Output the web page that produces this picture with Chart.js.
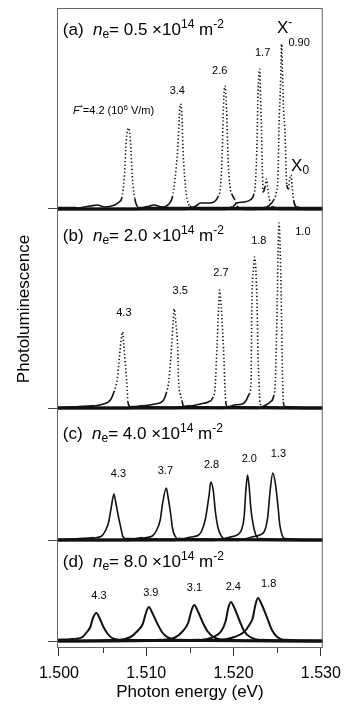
<!DOCTYPE html>
<html>
<head>
<meta charset="utf-8">
<title>Photoluminescence spectra</title>
<script src="https://cdn.jsdelivr.net/npm/chart.js@4.4.1/dist/chart.umd.min.js"></script>
<style>
  html, body { margin: 0; padding: 0; background: #fff; }
  #plChart { display: block; }
</style>
</head>
<body>
<canvas id="plChart" width="349" height="705"></canvas>
<script>
// spectra: [photon energy (eV), PL intensity (a.u., above own baseline)]
// panel (a) n_e = 0.5e14 m^-2
var a1 = [[1.4998,0.01],[1.5020,0.01],[1.5036,0.03],[1.5044,0.04],[1.5052,0.02],[1.5064,0.04],[1.5069,0.07],[1.5072,0.11],[1.5075,0.33],[1.5077,0.67],[1.5080,0.81],[1.5082,0.67],[1.5084,0.33],[1.5087,0.10],[1.5092,0.01],[1.5120,0.01],[1.5302,0.01]];
var a2 = [[1.4998,0],[1.5090,0],[1.5101,0.02],[1.5109,0.04],[1.5118,0.02],[1.5126,0.05],[1.5130,0.12],[1.5133,0.30],[1.5136,0.60],[1.5138,0.92],[1.5139,1.05],[1.5141,0.92],[1.5142,0.62],[1.5144,0.32],[1.5146,0.14],[1.5150,0.03],[1.5162,0],[1.5302,0]];
var a3 = [[1.4998,0],[1.5146,0],[1.5157,0.03],[1.5162,0.06],[1.5173,0.06],[1.5179,0.08],[1.5182,0.12],[1.5185,0.22],[1.5187,0.55],[1.5188,0.90],[1.5190,1.23],[1.5192,1.00],[1.5193,0.70],[1.5194,0.45],[1.5196,0.22],[1.5198,0.15],[1.5201,0.10],[1.5204,0.03],[1.5212,0],[1.5302,0]];
var a4 = [[1.4998,0],[1.5190,0],[1.5199,0.02],[1.5204,0.06],[1.5212,0.07],[1.5219,0.09],[1.5223,0.14],[1.5225,0.25],[1.5227,0.70],[1.5228,1.15],[1.5230,1.40],[1.5231,1.10],[1.5232,0.80],[1.5233,0.40],[1.5234,0.17],[1.5236,0.22],[1.5238,0.30],[1.5239,0.22],[1.5241,0.10],[1.5244,0.02],[1.5257,0],[1.5302,0]];
var a5 = [[1.4998,0],[1.5223,0],[1.5234,0.01],[1.5240,0.03],[1.5246,0.09],[1.5249,0.17],[1.5251,0.35],[1.5252,0.80],[1.5254,1.30],[1.5255,1.65],[1.5256,1.40],[1.5257,1.05],[1.5259,0.75],[1.5260,0.45],[1.5261,0.24],[1.5263,0.20],[1.5264,0.28],[1.5266,0.34],[1.5267,0.24],[1.5269,0.08],[1.5272,0.02],[1.5281,0],[1.5302,0]];
// panel (b) n_e = 2.0e14 m^-2
var b1 = [[1.4998,0],[1.5023,0.01],[1.5040,0.02],[1.5051,0.04],[1.5059,0.08],[1.5063,0.16],[1.5067,0.30],[1.5069,0.48],[1.5071,0.66],[1.5073,0.76],[1.5074,0.66],[1.5076,0.45],[1.5078,0.22],[1.5079,0.06],[1.5082,0.01],[1.5302,0]];
var b2 = [[1.4998,0],[1.5079,0],[1.5096,0.02],[1.5110,0.04],[1.5119,0.07],[1.5123,0.15],[1.5126,0.28],[1.5129,0.61],[1.5131,0.88],[1.5132,0.99],[1.5134,0.85],[1.5136,0.61],[1.5137,0.28],[1.5139,0.14],[1.5141,0.07],[1.5143,0.01],[1.5302,0]];
var b3 = [[1.4998,0],[1.5134,0],[1.5151,0.02],[1.5162,0.04],[1.5171,0.06],[1.5176,0.10],[1.5179,0.22],[1.5181,0.60],[1.5183,1.02],[1.5184,1.18],[1.5186,1.00],[1.5187,0.85],[1.5189,0.50],[1.5190,0.25],[1.5191,0.07],[1.5193,0.01],[1.5302,0]];
var b4 = [[1.4998,0],[1.5190,0],[1.5201,0.03],[1.5210,0.04],[1.5214,0.07],[1.5218,0.14],[1.5220,0.25],[1.5221,1.05],[1.5223,1.40],[1.5224,1.51],[1.5226,1.30],[1.5227,1.00],[1.5228,0.55],[1.5229,0.30],[1.5230,0.08],[1.5233,0.01],[1.5302,0]];
var b5 = [[1.4998,0],[1.5229,0],[1.5237,0.03],[1.5242,0.06],[1.5246,0.12],[1.5248,0.30],[1.5250,1.05],[1.5251,1.55],[1.5252,1.85],[1.5254,1.40],[1.5255,0.88],[1.5256,0.38],[1.5257,0.06],[1.5259,0.01],[1.5302,0]];
// panel (c) n_e = 4.0e14 m^-2
var c1 = [[1.4998,0],[1.5023,0.01],[1.5040,0.02],[1.5049,0.04],[1.5053,0.09],[1.5057,0.18],[1.5060,0.33],[1.5063,0.46],[1.5065,0.38],[1.5068,0.24],[1.5071,0.12],[1.5073,0.04],[1.5077,0.01],[1.5302,0]];
var c2 = [[1.4998,0],[1.5079,0],[1.5096,0.02],[1.5107,0.04],[1.5112,0.10],[1.5116,0.20],[1.5119,0.38],[1.5123,0.52],[1.5125,0.43],[1.5128,0.26],[1.5130,0.12],[1.5133,0.04],[1.5137,0.01],[1.5302,0]];
var c3 = [[1.4998,0],[1.5134,0],[1.5151,0.03],[1.5160,0.05],[1.5164,0.10],[1.5168,0.22],[1.5172,0.45],[1.5174,0.58],[1.5177,0.48],[1.5179,0.30],[1.5182,0.13],[1.5186,0.04],[1.5190,0.01],[1.5302,0]];
var c4 = [[1.4998,0],[1.5179,0],[1.5196,0.03],[1.5204,0.05],[1.5209,0.10],[1.5212,0.22],[1.5214,0.48],[1.5216,0.65],[1.5218,0.52],[1.5220,0.30],[1.5223,0.13],[1.5226,0.04],[1.5229,0.01],[1.5302,0]];
var c5 = [[1.4998,0],[1.5207,0],[1.5221,0.03],[1.5230,0.05],[1.5236,0.10],[1.5239,0.22],[1.5242,0.50],[1.5245,0.67],[1.5248,0.56],[1.5251,0.33],[1.5253,0.15],[1.5256,0.04],[1.5259,0.01],[1.5302,0]];
// panel (d) n_e = 8.0e14 m^-2
var d1 = [[1.4998,0.01],[1.5018,0.02],[1.5027,0.04],[1.5032,0.09],[1.5036,0.14],[1.5039,0.23],[1.5043,0.28],[1.5047,0.22],[1.5051,0.14],[1.5056,0.07],[1.5061,0.03],[1.5073,0.01],[1.5302,0]];
var d2 = [[1.4998,0],[1.5068,0.01],[1.5082,0.04],[1.5090,0.10],[1.5096,0.17],[1.5100,0.29],[1.5103,0.34],[1.5107,0.28],[1.5113,0.17],[1.5118,0.09],[1.5124,0.04],[1.5137,0.01],[1.5302,0]];
var d3 = [[1.4998,0],[1.5118,0.01],[1.5134,0.04],[1.5142,0.10],[1.5148,0.18],[1.5152,0.31],[1.5155,0.36],[1.5159,0.30],[1.5165,0.18],[1.5170,0.10],[1.5177,0.04],[1.5190,0.01],[1.5302,0]];
var d4 = [[1.4998,0],[1.5162,0.01],[1.5177,0.04],[1.5186,0.10],[1.5191,0.20],[1.5194,0.33],[1.5197,0.39],[1.5201,0.33],[1.5207,0.20],[1.5212,0.10],[1.5219,0.04],[1.5232,0.01],[1.5302,0]];
var d5 = [[1.4998,0],[1.5184,0.01],[1.5201,0.04],[1.5212,0.09],[1.5218,0.16],[1.5222,0.23],[1.5225,0.36],[1.5228,0.43],[1.5232,0.37],[1.5239,0.22],[1.5244,0.11],[1.5250,0.04],[1.5259,0.01],[1.5302,0]];

// vertical offset of each panel's zero line
var panelOffsets = [4.32, 2.33, 1.01, 0];
var panelTags = ['(a)', '(b)', '(c)', '(d)'];
var densities = ['0.5', '2.0', '4.0', '8.0'];
// F* field strength of each spectrum (10^6 V/m)
var fieldsA = ['4.2', '3.4', '2.6', '1.7', '0.90'];
var fieldsB = ['4.3', '3.5', '2.7', '1.8', '1.0'];
var fieldsC = ['4.3', '3.7', '2.8', '2.0', '1.3'];
var fieldsD = ['4.3', '3.9', '3.1', '2.4', '1.8'];
var majorTicks = [1.500, 1.510, 1.520, 1.530];
var minorTicks = [1.505, 1.515, 1.525];

// where the texts sit, in axis units
var tagSpots = [[1.50044, 6.06], [1.50044, 4.005], [1.50044, 2.025], [1.50044, 0.74]];
var fieldSpots = [
  [[1.50626, 5.267], [1.51356, 5.47], [1.51841, 5.675], [1.52333, 5.855], [1.52751, 5.955]],
  [[1.50744, 3.255], [1.51389, 3.47], [1.51856, 3.65], [1.52289, 3.975], [1.52794, 4.065]],
  [[1.50681, 1.637], [1.51219, 1.67], [1.51748, 1.73], [1.52181, 1.787], [1.52514, 1.843]],
  [[1.50459, 0.42], [1.51052, 0.453], [1.51552, 0.497], [1.51997, 0.51], [1.52403, 0.543]]
];
var trionSpot = [1.52497, 6.083];
var excitonSpot = [1.52659, 4.703];

var FONT = "'Liberation Sans', Arial, sans-serif";
var panels = [[a1, a2, a3, a4, a5], [b1, b2, b3, b4, b5], [c1, c2, c3, c4, c5], [d1, d2, d3, d4, d5]];
var fieldLists = [fieldsA, fieldsB, fieldsC, fieldsD];

function steep(c) {
  var dy = Math.abs(c.p1.y - c.p0.y), dx = Math.abs(c.p1.x - c.p0.x);
  return dy > 6 && dy > 2.5 * dx;
}

var datasets = [];
panels.forEach(function (group, p) {
  group.forEach(function (spec) {
    var inten = spec.map(function (d) { return d[1]; });
    datasets.push({
      data: spec.map(function (d) { return { x: d[0], y: d[1] + panelOffsets[p] }; }),
      borderColor: '#111',
      borderWidth: p === 3 ? 2 : 1.6,
      pointRadius: 0,
      cubicInterpolationMode: 'monotone',
      segment: {
        borderDash: function (c) { return (p < 2 && steep(c)) ? [1.3, 2.3] : undefined; },
        borderWidth: function (c) {
          return (inten[c.p0DataIndex] < 0.03 && inten[c.p1DataIndex] < 0.03) ? 2.6 : undefined;
        }
      }
    });
  });
});

// text with italic / super / subscript runs, x,y is the baseline
function drawRuns(ctx, runs, x, y, size, align) {
  var small = Math.round(size * 0.7);
  function fontFor(k) {
    return (k === 'i' ? 'italic ' : '') + ((k === 'sup' || k === 'sub') ? small : size) + 'px ' + FONT;
  }
  var w = 0;
  runs.forEach(function (r) { ctx.font = fontFor(r[1]); w += ctx.measureText(r[0]).width; });
  var cx = align === 'center' ? x - w / 2 : x;
  ctx.textAlign = 'left';
  ctx.textBaseline = 'alphabetic';
  runs.forEach(function (r) {
    ctx.font = fontFor(r[1]);
    var dy = r[1] === 'sup' ? -size * 0.4 : (r[1] === 'sub' ? size * 0.2 : 0);
    ctx.fillText(r[0], cx, y + dy);
    cx += ctx.measureText(r[0]).width;
  });
}

var decorations = {
  id: 'decorations',
  afterDraw: function (chart) {
    var ctx = chart.ctx, a = chart.chartArea, x = chart.scales.x, y = chart.scales.y;
    ctx.save();
    // frame
    ctx.strokeStyle = '#666';
    ctx.lineWidth = 1;
    ctx.strokeRect(a.left + 0.5, a.top + 0.5, a.right - a.left - 1, a.bottom - a.top - 1);
    // minor ticks
    ctx.strokeStyle = '#333';
    minorTicks.forEach(function (v) {
      var px = Math.round(x.getPixelForValue(v)) + 0.5;
      ctx.beginPath();
      ctx.moveTo(px, a.bottom);
      ctx.lineTo(px, a.bottom + 5);
      ctx.stroke();
    });
    ctx.fillStyle = '#000';
    // panel headings
    panelTags.forEach(function (tag, p) {
      drawRuns(ctx, [[tag + '  ', ''], ['n', 'i'], ['e', 'sub'], ['= ' + densities[p] + ' \u00d710', ''], ['14', 'sup'], [' m', ''], ['-2', 'sup']],
        x.getPixelForValue(tagSpots[p][0]), y.getPixelForValue(tagSpots[p][1]), 17, 'left');
    });
    // field labels
    fieldLists.forEach(function (list, p) {
      list.forEach(function (f, i) {
        var spot = fieldSpots[p][i];
        var runs = (p === 0 && i === 0)
          ? [['F', 'i'], ['*', 'sup'], ['=' + f + ' (10', ''], ['6', 'sup'], [' V/m)', '']]
          : [[f, '']];
        drawRuns(ctx, runs, x.getPixelForValue(spot[0]), y.getPixelForValue(spot[1]), 11, 'center');
      });
    });
    drawRuns(ctx, [['X', ''], ['-', 'sup']], x.getPixelForValue(trionSpot[0]), y.getPixelForValue(trionSpot[1]), 17, 'left');
    drawRuns(ctx, [['X', ''], ['0', 'sub']], x.getPixelForValue(excitonSpot[0]), y.getPixelForValue(excitonSpot[1]), 17, 'left');
    // y axis title
    ctx.translate(24, 309);
    ctx.rotate(-Math.PI / 2);
    ctx.font = '17px ' + FONT;
    ctx.textAlign = 'center';
    ctx.textBaseline = 'middle';
    ctx.fillText('Photoluminescence', 0, 0);
    ctx.restore();
  }
};

var plChart = new Chart(document.getElementById('plChart'), {
  type: 'line',
  data: { datasets: datasets },
  options: {
    responsive: false,
    devicePixelRatio: 1,
    animation: false,
    layout: { padding: { left: 0, right: 18, top: 8, bottom: 0 } },
    plugins: { legend: { display: false }, tooltip: { enabled: false } },
    scales: {
      x: {
        type: 'linear',
        min: 1.49978,
        max: 1.53022,
        afterBuildTicks: function (s) { s.ticks = majorTicks.map(function (v) { return { value: v }; }); },
        afterFit: function (s) { s.height = 57; },
        border: { display: false },
        grid: { drawOnChartArea: false, drawTicks: true, tickLength: 8, color: '#333' },
        ticks: {
          autoSkip: false,
          maxRotation: 0,
          padding: 8,
          color: '#000',
          font: { family: FONT, size: 16 },
          callback: function (v) { return v.toFixed(3); }
        },
        title: {
          display: true,
          text: 'Photon energy (eV)',
          color: '#000',
          font: { family: FONT, size: 17 },
          padding: { top: 0, bottom: 2 }
        }
      },
      y: {
        type: 'linear',
        min: -0.07,
        max: 6.33,
        afterBuildTicks: function (s) { s.ticks = panelOffsets.map(function (v) { return { value: v }; }); },
        afterFit: function (s) { s.width = 57; },
        border: { display: false },
        grid: { drawOnChartArea: false, drawTicks: true, tickLength: 9, color: '#444' },
        ticks: { display: false }
      }
    }
  },
  plugins: [decorations]
});
</script>
</body>
</html>
